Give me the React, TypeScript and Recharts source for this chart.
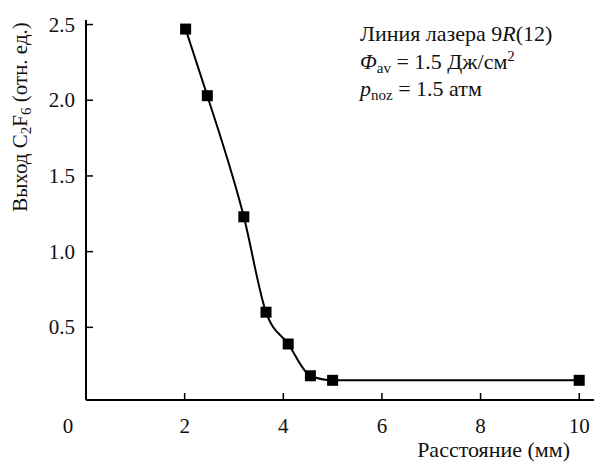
import React from 'react';
import { ComposedChart, Line, Scatter, XAxis, YAxis } from 'recharts';

const distance = [2.02, 2.46, 3.2, 3.65, 4.1, 4.55, 5.0, 10.0];
const yieldC2F6 = [2.47, 2.03, 1.23, 0.6, 0.39, 0.18, 0.15, 0.15];
const xTicks = [0, 2, 4, 6, 8, 10];
const yTicks = [0.5, 1.0, 1.5, 2.0, 2.5];

const data = distance.map((x, i) => ({ x, y: yieldC2F6[i] }));

const FONT = '"Liberation Serif", "DejaVu Serif", serif';

const XTick = (props: any) => {
    const { x, y, payload } = props;
    const v = payload.value;
    return (
        <g>
            {v !== 0 && <line x1={x} x2={x} y1={y} y2={y - 7} stroke="#000" strokeWidth={1.5} />}
            <text x={v === 0 ? x - 18 : x} y={y + 33} textAnchor="middle" fontSize={21} fontFamily={FONT} fill="#111">
                {v}
            </text>
        </g>
    );
};

const YTick = (props: any) => {
    const { x, y, payload } = props;
    return (
        <g>
            <line x1={x} x2={x + 7} y1={y} y2={y} stroke="#000" strokeWidth={1.5} />
            <text x={x - 11} y={y + 7} textAnchor="end" fontSize={21} fontFamily={FONT} fill="#111">
                {payload.value.toFixed(1)}
            </text>
        </g>
    );
};

const Square = (props: any) => {
    const { cx, cy } = props;
    return <rect x={cx - 5.5} y={cy - 5.5} width={11} height={11} fill="#000" />;
};

const App: React.FC = () => {
    return (
        <div style={{ position: 'absolute', left: 0, top: 0, width: 594, height: 465, background: '#fff' }}>
            <ComposedChart width={594} height={465} data={data} margin={{ top: 20, right: 0, left: 0, bottom: 0 }}>
                <XAxis
                    dataKey="x"
                    type="number"
                    domain={[0, 10.3]}
                    ticks={xTicks}
                    height={65}
                    tickSize={0}
                    tickMargin={0}
                    tick={<XTick />}
                    axisLine={{ stroke: '#000', strokeWidth: 2 }}
                    tickLine={false}
                    interval={0}
                />
                <YAxis
                    type="number"
                    domain={[0.02, 2.53]}
                    ticks={yTicks}
                    width={86}
                    tickSize={0}
                    tickMargin={0}
                    tick={<YTick />}
                    axisLine={{ stroke: '#000', strokeWidth: 2 }}
                    tickLine={false}
                    interval={0}
                    allowDataOverflow
                />
                <Line
                    dataKey="y"
                    type="monotone"
                    stroke="#000"
                    strokeWidth={2}
                    dot={false}
                    activeDot={false}
                    isAnimationActive={false}
                />
                <Scatter dataKey="y" shape={<Square />} isAnimationActive={false} />
            </ComposedChart>
            <svg width={594} height={465} style={{ position: 'absolute', left: 0, top: 0, pointerEvents: 'none' }}>
                <g fontFamily={FONT} fill="#111" fontSize={22}>
                    <text x={360} y={41}>
                        Линия лазера 9<tspan fontStyle="italic">R</tspan>(12)
                    </text>
                    <text x={360} y={69}>
                        <tspan fontStyle="italic">Φ</tspan>
                        <tspan fontSize={15} dy={4}>av</tspan>
                        <tspan dy={-4}> = 1.5 Дж/см</tspan>
                        <tspan fontSize={15} dy={-8}>2</tspan>
                    </text>
                    <text x={360} y={96}>
                        <tspan fontStyle="italic">p</tspan>
                        <tspan fontSize={15} dy={4}>noz</tspan>
                        <tspan dy={-4}> = 1.5 атм</tspan>
                    </text>
                    <text x={570} y={457} textAnchor="end">Расстояние (мм)</text>
                    <text transform="translate(27,117) rotate(-90)" textAnchor="middle" fontSize={21}>
                        Выход C<tspan fontSize={15} dy={4}>2</tspan>
                        <tspan dy={-4}>F</tspan>
                        <tspan fontSize={15} dy={4}>6</tspan>
                        <tspan dy={-4}> (отн. ед.)</tspan>
                    </text>
                </g>
            </svg>
        </div>
    );
};

export default App;
